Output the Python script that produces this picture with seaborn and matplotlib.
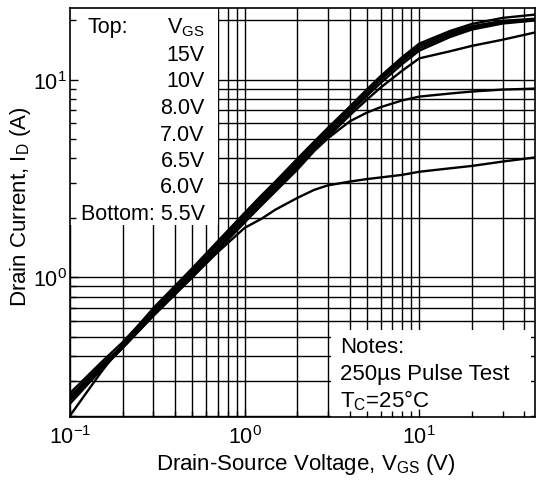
import numpy as np
import pandas as pd
import seaborn as sns
import matplotlib.pyplot as plt
from matplotlib.patches import Rectangle
from matplotlib.ticker import LogLocator, NullFormatter

# drain-source voltage (V), shared by all curves
vds = [0.1, 0.15, 0.2, 0.3, 0.5, 0.7, 1.0, 1.25, 1.5, 2.0, 2.5, 3.0, 4.0, 5.0, 6.0, 8.0, 10, 15, 20, 30, 46]

# drain current (A) for each gate voltage
id_15v = [0.20, 0.33, 0.46, 0.70, 1.11, 1.52, 2.12, 2.60, 3.05, 3.97, 4.85, 5.70, 7.30, 8.90, 10.4, 13.0, 15.2, 17.6, 19.1, 20.5, 21.3]
id_10v = [0.26, 0.37, 0.47, 0.69, 1.09, 1.49, 2.07, 2.54, 2.98, 3.88, 4.75, 5.58, 7.15, 8.70, 10.2, 12.7, 14.8, 17.2, 18.6, 19.8, 20.3]
id_8v = [0.25, 0.36, 0.45, 0.68, 1.06, 1.46, 2.02, 2.47, 2.91, 3.79, 4.64, 5.45, 7.00, 8.50, 9.95, 12.4, 14.4, 16.8, 18.3, 19.5, 20.0]
id_7v = [0.24, 0.35, 0.45, 0.66, 1.03, 1.41, 1.96, 2.40, 2.82, 3.68, 4.50, 5.30, 6.80, 8.25, 9.60, 12.0, 14.0, 16.4, 17.9, 19.2, 19.9]
id_6v5 = [0.24, 0.34, 0.44, 0.64, 1.00, 1.37, 1.90, 2.33, 2.74, 3.58, 4.38, 5.13, 6.60, 7.90, 9.10, 11.1, 12.8, 13.9, 14.8, 15.9, 17.3]
id_6v = [0.25, 0.35, 0.45, 0.65, 1.01, 1.38, 1.90, 2.32, 2.72, 3.50, 4.35, 5.05, 6.15, 6.80, 7.25, 7.85, 8.20, 8.50, 8.70, 8.90, 9.00]
id_5v5 = [0.23, 0.34, 0.44, 0.64, 1.00, 1.34, 1.78, 1.98, 2.20, 2.52, 2.77, 2.92, 3.05, 3.14, 3.20, 3.30, 3.42, 3.56, 3.66, 3.85, 4.04]

vgs_labels = ['15V', '10V', '8.0V', '7.0V', '6.5V', '6.0V', '5.5V']
curves = [id_15v, id_10v, id_8v, id_7v, id_6v5, id_6v, id_5v5]

rows = []
for lab, ids in zip(vgs_labels, curves):
    for v, i in zip(vds, ids):
        rows.append((lab, v, i))
df = pd.DataFrame(rows, columns=['vgs', 'vds', 'id'])

sns.set_style('ticks')
plt.rcParams['font.family'] = ['Liberation Sans', 'DejaVu Sans']
plt.rcParams['mathtext.fontset'] = 'custom'
plt.rcParams['mathtext.rm'] = 'Liberation Sans'
plt.rcParams['mathtext.it'] = 'Liberation Sans:italic'
plt.rcParams['axes.unicode_minus'] = False
for key in ['text.color', 'axes.labelcolor', 'xtick.color', 'ytick.color']:
    plt.rcParams[key] = 'black'

fig = plt.figure(figsize=(5.36, 4.81), dpi=100)
ax = fig.add_axes([70 / 536, 1 - 418 / 481, 465 / 536, 409 / 481])

sns.lineplot(data=df, x='vds', y='id', hue='vgs', palette=['black'] * 7,
             estimator=None, sort=False, legend=False, lw=1.7, ax=ax, zorder=3)

ax.set_xscale('log')
ax.set_yscale('log')
xmin, xmax = 0.1, 46
ymin, ymax = 0.197, 23
ax.set_xlim(xmin, xmax)
ax.set_ylim(ymin, ymax)
for axis in (ax.xaxis, ax.yaxis):
    axis.set_major_locator(LogLocator(base=10))
    axis.set_minor_locator(LogLocator(base=10, subs=np.arange(2, 10)))
    axis.set_minor_formatter(NullFormatter())

# full black grid taken from the tick positions
xs = np.concatenate([ax.xaxis.get_majorticklocs(), ax.xaxis.get_minorticklocs()])
xs = xs[(xs >= xmin) & (xs <= xmax)]
ys = np.concatenate([ax.yaxis.get_majorticklocs(), ax.yaxis.get_minorticklocs()])
ys = ys[(ys >= ymin) & (ys <= ymax)]
ax.vlines(xs, 0, 1, transform=ax.get_xaxis_transform(), colors='black', lw=1.0, zorder=1)
ax.hlines(ys, 0, 1, transform=ax.get_yaxis_transform(), colors='black', lw=1.0, zorder=1)

# white panels behind the annotations
ax.add_patch(Rectangle((0, 0.469), 0.318, 0.531, transform=ax.transAxes,
                       facecolor='white', edgecolor='none', zorder=1.5))
ax.add_patch(Rectangle((0.561, 0), 0.430, 0.213, transform=ax.transAxes,
                       facecolor='white', edgecolor='none', zorder=1.5))

ax.set_axisbelow(False)
for s in ax.spines.values():
    s.set_color('black')
    s.set_linewidth(1.2)
ax.tick_params(which='both', direction='in', top=False, right=False,
               color='black', width=1.0, labelsize=15.5, labelcolor='black')
ax.tick_params(axis='x', which='both', pad=6)
ax.tick_params(axis='y', which='both', pad=2)
ax.tick_params(which='major', length=6)
ax.tick_params(which='minor', length=4)

fs = 15.5
ax.text(0.037, 0.941, 'Top:', transform=ax.transAxes, fontsize=fs, va='baseline', zorder=4)
ax.text(0.290, 0.941, r'V$_\mathregular{GS}$', transform=ax.transAxes, fontsize=fs,
        ha='right', va='baseline', zorder=4)
row_y = [0.873, 0.809, 0.743, 0.677, 0.614, 0.550]
for lab, yy in zip(vgs_labels[:-1], row_y):
    ax.text(0.290, yy, lab, transform=ax.transAxes, fontsize=fs, ha='right', va='baseline', zorder=4)
ax.text(0.290, 0.484, 'Bottom: ' + vgs_labels[-1], transform=ax.transAxes, fontsize=fs,
        ha='right', va='baseline', zorder=4)

fn = 16
ax.text(0.581, 0.159, 'Notes:', transform=ax.transAxes, fontsize=fn, va='baseline', zorder=4)
ax.text(0.581, 0.093, '250µs Pulse Test', transform=ax.transAxes, fontsize=fn, va='baseline', zorder=4)
ax.text(0.581, 0.027, r'T$_\mathregular{C}$=25°C', transform=ax.transAxes, fontsize=fn,
        va='baseline', zorder=4)

ax.set_xlabel(r'Drain-Source Voltage, V$_\mathregular{GS}$ (V)', fontsize=16)
ax.set_ylabel(r'Drain Current, I$_\mathregular{D}$ (A)', fontsize=16)
ax.xaxis.set_label_coords(0.508, -0.083)
ax.yaxis.set_label_coords(-0.08, 0.516)

fig.savefig('out.png', dpi=100, facecolor='white')
